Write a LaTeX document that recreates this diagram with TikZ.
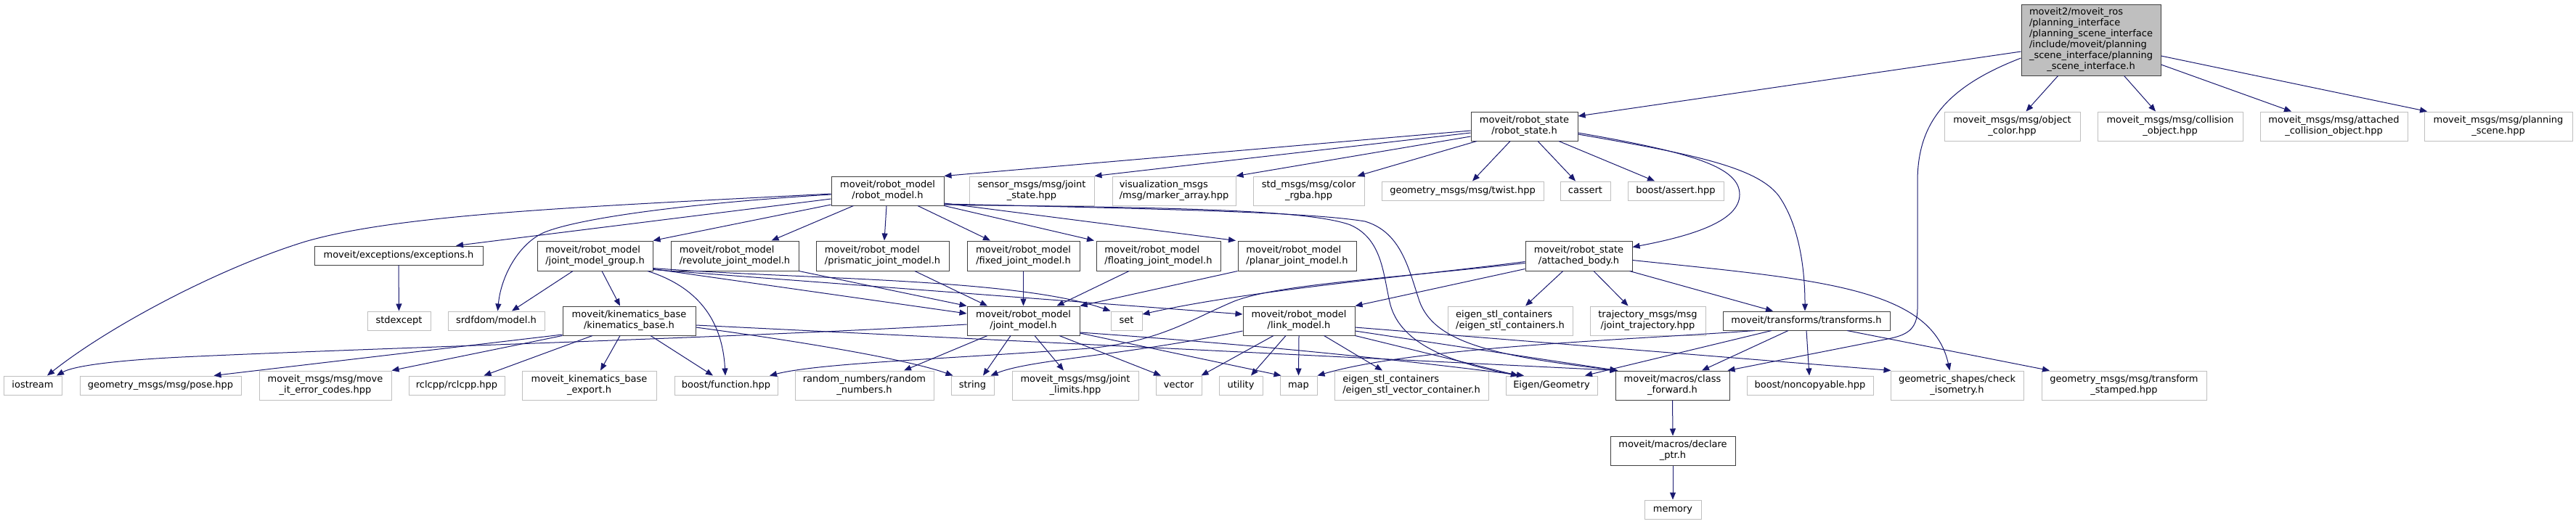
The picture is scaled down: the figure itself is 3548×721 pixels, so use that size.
\documentclass[tikz,border=0pt]{standalone}
\usepackage{fontspec}
\setmainfont{DejaVu Sans}
\usetikzlibrary{arrows.meta}
\definecolor{edgeblue}{RGB}{25,25,112}
\definecolor{docborder}{RGB}{64,64,64}
\definecolor{extborder}{RGB}{191,191,191}
\definecolor{rootfill}{RGB}{191,191,191}
\newcommand\twol[2]{\begin{tabular}{@{}l@{}}#1\\\multicolumn{1}{@{}c@{}}{#2}\end{tabular}}
\newcommand\onel[1]{\begin{tabular}{@{}c@{}}#1\end{tabular}}
\newcommand\mkbox[7]{\node[#1, minimum width={#4-#2}, minimum height={#5-#3}] (#6) at ({(#2+#4)/2},{(#3+#5)/2}) {#7};}
\tikzset{
  basebox/.style={draw, inner sep=0pt, line width=1pt, fill=white, font=\fontsize{13}{15}\selectfont},
  docbox/.style={basebox, draw=docborder},
  extbox/.style={basebox, draw=extborder},
  rootbox/.style={basebox, draw=docborder, fill=rootfill},
  deparrow/.style={draw=edgeblue, line width=1pt, -{Triangle[length=10pt,width=8pt,fill=edgeblue]}},
}
\begin{document}
\begin{tikzpicture}[x=1pt,y=-1pt]
\fill[white] (0,0) rectangle (3548,721);
\useasboundingbox (0,0) rectangle (3548,721);
% level 0
\mkbox{rootbox}{2784}{6}{2976}{104}{root}{\begin{tabular}{@{}l@{}}moveit2/moveit\_ros\\/planning\_interface\\/planning\_scene\_interface\\/include/moveit/planning\\\_scene\_interface/planning\\\multicolumn{1}{@{}c@{}}{\_scene\_interface.h}\end{tabular}}
% level 1
\mkbox{docbox}{2026}{154}{2173}{194}{rs}{\twol{moveit/robot\_state}{/robot\_state.h}}
\mkbox{extbox}{2678}{154}{2865}{194}{oc}{\twol{moveit\_msgs/msg/object}{\_color.hpp}}
\mkbox{extbox}{2889}{154}{3089}{194}{co}{\twol{moveit\_msgs/msg/collision}{\_object.hpp}}
\mkbox{extbox}{3113}{154}{3316}{194}{aco}{\twol{moveit\_msgs/msg/attached}{\_collision\_object.hpp}}
\mkbox{extbox}{3339}{154}{3543}{194}{ps}{\twol{moveit\_msgs/msg/planning}{\_scene.hpp}}
% level 2
\mkbox{docbox}{1145}{243}{1300}{283}{rm}{\twol{moveit/robot\_model}{/robot\_model.h}}
\mkbox{extbox}{1335}{243}{1507}{283}{js}{\twol{sensor\_msgs/msg/joint}{\_state.hpp}}
\mkbox{extbox}{1532}{243}{1702}{283}{ma}{\twol{visualization\_msgs}{/msg/marker\_array.hpp}}
\mkbox{extbox}{1726}{243}{1879}{283}{rgba}{\twol{std\_msgs/msg/color}{\_rgba.hpp}}
\mkbox{extbox}{1903}{250}{2126}{276}{tw}{\onel{geometry\_msgs/msg/twist.hpp}}
\mkbox{extbox}{2149}{250}{2218}{276}{ca}{\onel{cassert}}
\mkbox{extbox}{2242}{250}{2374}{276}{ba}{\onel{boost/assert.hpp}}
% level 3
\mkbox{docbox}{433}{339}{665}{365}{exc}{\onel{moveit/exceptions/exceptions.h}}
\mkbox{docbox}{740}{332}{899}{373}{jmg}{\twol{moveit/robot\_model}{/joint\_model\_group.h}}
\mkbox{docbox}{924}{332}{1100}{373}{rev}{\twol{moveit/robot\_model}{/revolute\_joint\_model.h}}
\mkbox{docbox}{1124}{332}{1307}{373}{pris}{\twol{moveit/robot\_model}{/prismatic\_joint\_model.h}}
\mkbox{docbox}{1332}{332}{1487}{373}{fix}{\twol{moveit/robot\_model}{/fixed\_joint\_model.h}}
\mkbox{docbox}{1510}{332}{1681}{373}{flo}{\twol{moveit/robot\_model}{/floating\_joint\_model.h}}
\mkbox{docbox}{1705}{332}{1868}{373}{pla}{\twol{moveit/robot\_model}{/planar\_joint\_model.h}}
\mkbox{docbox}{2101}{332}{2248}{373}{ab}{\twol{moveit/robot\_state}{/attached\_body.h}}
% level 4
\mkbox{extbox}{506}{429}{593}{455}{se}{\onel{stdexcept}}
\mkbox{extbox}{617}{429}{750}{455}{srdf}{\onel{srdfdom/model.h}}
\mkbox{docbox}{775}{422}{958}{462}{kb}{\twol{moveit/kinematics\_base}{/kinematics\_base.h}}
\mkbox{docbox}{1332}{422}{1487}{462}{jm}{\twol{moveit/robot\_model}{/joint\_model.h}}
\mkbox{extbox}{1530}{429}{1573}{455}{set}{\onel{set}}
\mkbox{docbox}{1712}{422}{1866}{462}{lm}{\twol{moveit/robot\_model}{/link\_model.h}}
\mkbox{extbox}{1994}{422}{2166}{462}{esc}{\twol{eigen\_stl\_containers}{/eigen\_stl\_containers.h}}
\mkbox{extbox}{2190}{422}{2349}{462}{traj}{\twol{trajectory\_msgs/msg}{/joint\_trajectory.hpp}}
\mkbox{docbox}{2373}{429}{2603}{455}{tf}{\onel{moveit/transforms/transforms.h}}
% level 5
\mkbox{extbox}{5}{518}{85}{544}{io}{\onel{iostream}}
\mkbox{extbox}{110}{518}{332}{544}{pose}{\onel{geometry\_msgs/msg/pose.hpp}}
\mkbox{extbox}{357}{511}{539}{551}{ec}{\twol{moveit\_msgs/msg/move}{\_it\_error\_codes.hpp}}
\mkbox{extbox}{563}{518}{695}{544}{rcl}{\onel{rclcpp/rclcpp.hpp}}
\mkbox{extbox}{719}{511}{904}{551}{kbe}{\twol{moveit\_kinematics\_base}{\_export.h}}
\mkbox{extbox}{929}{518}{1071}{544}{bf}{\onel{boost/function.hpp}}
\mkbox{extbox}{1095}{511}{1286}{551}{rnd}{\twol{random\_numbers/random}{\_numbers.h}}
\mkbox{extbox}{1310}{518}{1369}{544}{str}{\onel{string}}
\mkbox{extbox}{1394}{511}{1568}{551}{jl}{\twol{moveit\_msgs/msg/joint}{\_limits.hpp}}
\mkbox{extbox}{1592}{518}{1655}{544}{vec}{\onel{vector}}
\mkbox{extbox}{1679}{518}{1739}{544}{uti}{\onel{utility}}
\mkbox{extbox}{1763}{518}{1814}{544}{map}{\onel{map}}
\mkbox{extbox}{1838}{511}{2050}{551}{esvc}{\twol{eigen\_stl\_containers}{/eigen\_stl\_vector\_container.h}}
\mkbox{extbox}{2074}{518}{2200}{544}{eig}{\onel{Eigen/Geometry}}
\mkbox{docbox}{2225}{511}{2382}{551}{cf}{\twol{moveit/macros/class}{\_forward.h}}
\mkbox{extbox}{2406}{518}{2580}{544}{nc}{\onel{boost/noncopyable.hpp}}
\mkbox{extbox}{2604}{511}{2787}{551}{ci}{\twol{geometric\_shapes/check}{\_isometry.h}}
\mkbox{extbox}{2812}{511}{3039}{551}{tfs}{\twol{geometry\_msgs/msg/transform}{\_stamped.hpp}}
% level 6,7
\mkbox{docbox}{2218}{601}{2390}{641}{dp}{\twol{moveit/macros/declare}{\_ptr.h}}
\mkbox{extbox}{2265}{689}{2343}{715}{mem}{\onel{memory}}
% ---- edges from root
\draw[deparrow] ([yshift=-16]root.west) -- ([yshift=14]rs.east);
\draw[deparrow] ([xshift=-45.5]root.south) -- ([xshift=19]oc.north);
\draw[deparrow] ([xshift=45.6]root.south) -- ([xshift=-20]co.north);
\draw[deparrow] ([yshift=-34]root.east) -- ([xshift=-58.5]aco.north);
\draw[deparrow] ([yshift=-22]root.east) -- ([xshift=-98]ps.north);
\draw[deparrow] ([yshift=-25]root.west) .. controls (2680,120) and (2641,170) .. (2641,250) -- (2641,425) .. controls (2641,455) and (2625,462) .. (2600,467) -- ([xshift=76]cf.north);
% ---- robot_state
\draw[deparrow] ([yshift=-6]rs.west) -- (rm.north east);
\draw[deparrow] ([yshift=-9]rs.west) -- (js.north east);
\draw[deparrow] ([yshift=-14]rs.west) -- (ma.north east);
\draw[deparrow] ([xshift=-65.5]rs.south) -- ([xshift=67]rgba.north);
\draw[deparrow] ([xshift=-19.5]rs.south) -- ([xshift=13.5]tw.north);
\draw[deparrow] ([xshift=18.5]rs.south) -- ([xshift=-13.5]ca.north);
\draw[deparrow] ([xshift=47.5]rs.south) -- ([xshift=-29]ba.north);
\draw[deparrow] ([yshift=-9]rs.east) .. controls (2330,210) and (2396,230) .. (2396,268) .. controls (2396,305) and (2330,325) .. ([yshift=12]ab.east);
\draw[deparrow] ([yshift=-11]rs.east) .. controls (2330,212) and (2420,230) .. (2450,270) .. controls (2478,310) and (2486,370) .. ([xshift=-2]tf.north);
% ---- robot_model
\draw[deparrow] ([yshift=-4]rm.west) .. controls (800,285) and (550,295) .. (420,333) .. controls (300,370) and (150,450) .. ([xshift=20]io.north);
\draw[deparrow] ([yshift=-11]rm.west) -- ([xshift=79]exc.north);
\draw[deparrow] ([yshift=-5]rm.west) .. controls (950,280) and (800,300) .. (750,320) .. controls (715,335) and (690,380) .. ([xshift=2]srdf.north);
\draw[deparrow] ([yshift=-19]rm.west) -- (jmg.north east);
\draw[deparrow] ([xshift=-47]rm.south) -- ([xshift=50.6]rev.north);
\draw[deparrow] ([xshift=-1.5]rm.south) -- ([xshift=2.5]pris.north);
\draw[deparrow] ([xshift=41.5]rm.south) -- ([xshift=-45.5]fix.north);
\draw[deparrow] (rm.south east) -- ([xshift=-88.5]flo.north);
\draw[deparrow] ([yshift=-17]rm.east) -- ([xshift=-84.5]pla.north);
\draw[deparrow] ([yshift=-19]rm.east) .. controls (1600,286) and (1800,288) .. (1860,310) .. controls (1905,330) and (1905,380) .. (1915,420) .. controls (1930,475) and (2000,500) .. ([xshift=-46]eig.north);
\draw[deparrow] ([yshift=-18]rm.east) .. controls (1600,288) and (1800,292) .. (1880,305) .. controls (1930,320) and (1940,370) .. (1955,415) .. controls (1975,470) and (2050,490) .. ([xshift=-75]cf.north);
% ---- exceptions
\draw[deparrow] (exc.south) -- (se.north);
% ---- joint_model_group
\draw[deparrow] ([xshift=-30.5]jmg.south) -- ([xshift=21.5]srdf.north);
\draw[deparrow] ([xshift=9.5]jmg.south) -- ([xshift=-12.5]kb.north);
\draw[deparrow] ([xshift=72.5]jmg.south) .. controls (960,395) and (995,440) .. ([xshift=-1]bf.north);
\draw[deparrow] ([yshift=-18]jmg.east) -- ([yshift=10]jm.west);
\draw[deparrow] ([yshift=-19]jmg.east) -- ([yshift=9]lm.west);
\draw[deparrow] ([yshift=-17]jmg.east) .. controls (1100,385) and (1400,383) .. (set.north west);
% ---- joint model types
\draw[deparrow] (rev.south east) -- (jm.north west);
\draw[deparrow] ([xshift=44.5]pris.south) -- ([xshift=-49.5]jm.north);
\draw[deparrow] (fix.south) -- (jm.north);
\draw[deparrow] ([xshift=-40.5]flo.south) -- ([xshift=46]jm.north);
\draw[deparrow] (pla.south west) -- (jm.north east);
% ---- kinematics_base
\draw[deparrow] ([yshift=-19]kb.west) -- ([xshift=73.5]pose.north);
\draw[deparrow] (kb.south west) -- (ec.north east);
\draw[deparrow] ([xshift=-50.5]kb.south) -- ([xshift=37.5]rcl.north);
\draw[deparrow] ([xshift=-12.5]kb.south) -- ([xshift=15.5]kbe.north);
\draw[deparrow] ([xshift=29.5]kb.south) -- ([xshift=-18]bf.north);
\draw[deparrow] ([yshift=-9]kb.east) .. controls (1100,470) and (1250,495) .. ([xshift=3]str.north west);
\draw[deparrow] ([yshift=-6]kb.east) -- ([xshift=3]cf.north west);
% ---- joint_model
\draw[deparrow] ([yshift=-5]jm.west) .. controls (1000,466) and (500,480) .. (250,492) .. controls (150,497) and (100,505) .. ([xshift=33]io.north);
\draw[deparrow] ([xshift=-49.5]jm.south) -- ([xshift=54.5]rnd.north);
\draw[deparrow] ([xshift=-17.5]jm.south) -- ([xshift=14.5]str.north);
\draw[deparrow] ([xshift=15.5]jm.south) -- ([xshift=-16]jl.north);
\draw[deparrow] ([xshift=49.5]jm.south) -- ([xshift=-24.5]vec.north);
\draw[deparrow] ([yshift=-17]jm.east) -- ([xshift=2]map.north west);
\draw[deparrow] ([yshift=-16]jm.east) .. controls (1800,480) and (2000,505) .. ([xshift=-38]eig.north);
% ---- link_model
\draw[deparrow] ([yshift=-14]lm.west) .. controls (1550,490) and (1420,495) .. ([xshift=25]str.north);
\draw[deparrow] ([xshift=-35]lm.south) -- ([xshift=31]vec.north);
\draw[deparrow] ([xshift=-18]lm.south) -- ([xshift=14]uti.north);
\draw[deparrow] (lm.south) -- (map.north);
\draw[deparrow] ([xshift=34.6]lm.south) -- ([xshift=-40]esvc.north);
\draw[deparrow] (lm.south east) -- ([xshift=-46]eig.north);
\draw[deparrow] ([yshift=-14]lm.east) -- ([xshift=3]cf.north west);
\draw[deparrow] ([yshift=-9]lm.east) -- ([xshift=1]ci.north west);
% ---- attached_body
\draw[deparrow] ([yshift=-18]ab.west) -- (lm.north east);
\draw[deparrow] ([yshift=-8]ab.west) .. controls (1950,380) and (1720,400) .. ([yshift=9]set.east);
\draw[deparrow] ([yshift=-10]ab.west) .. controls (1900,385) and (1760,392) .. (1700,415) .. controls (1640,440) and (1600,470) .. (1500,480) .. controls (1300,495) and (1130,500) .. ([xshift=60]bf.north);
\draw[deparrow] ([xshift=-21.8]ab.south) -- ([xshift=21]esc.north);
\draw[deparrow] ([xshift=20.5]ab.south) -- ([xshift=-27]traj.north);
\draw[deparrow] ([xshift=70]ab.south) -- ([xshift=-46]tf.north);
\draw[deparrow] ([yshift=-6]ab.east) .. controls (2500,385) and (2660,395) .. ([xshift=-10]ci.north);
% ---- transforms
\draw[deparrow] ([xshift=-71]tf.south) .. controls (2250,468) and (1950,478) .. (map.north east);
\draw[deparrow] ([xshift=-48]tf.south) -- ([xshift=46]eig.north);
\draw[deparrow] ([xshift=-25]tf.south) -- ([xshift=40.5]cf.north);
\draw[deparrow] (tf.south) -- ([xshift=-1]nc.north);
\draw[deparrow] ([xshift=56]tf.south) -- ([xshift=-102.5]tfs.north);
% ---- macros
\draw[deparrow] (cf.south) -- (dp.north);
\draw[deparrow] (dp.south) -- (mem.north);
\end{tikzpicture}
\end{document}
